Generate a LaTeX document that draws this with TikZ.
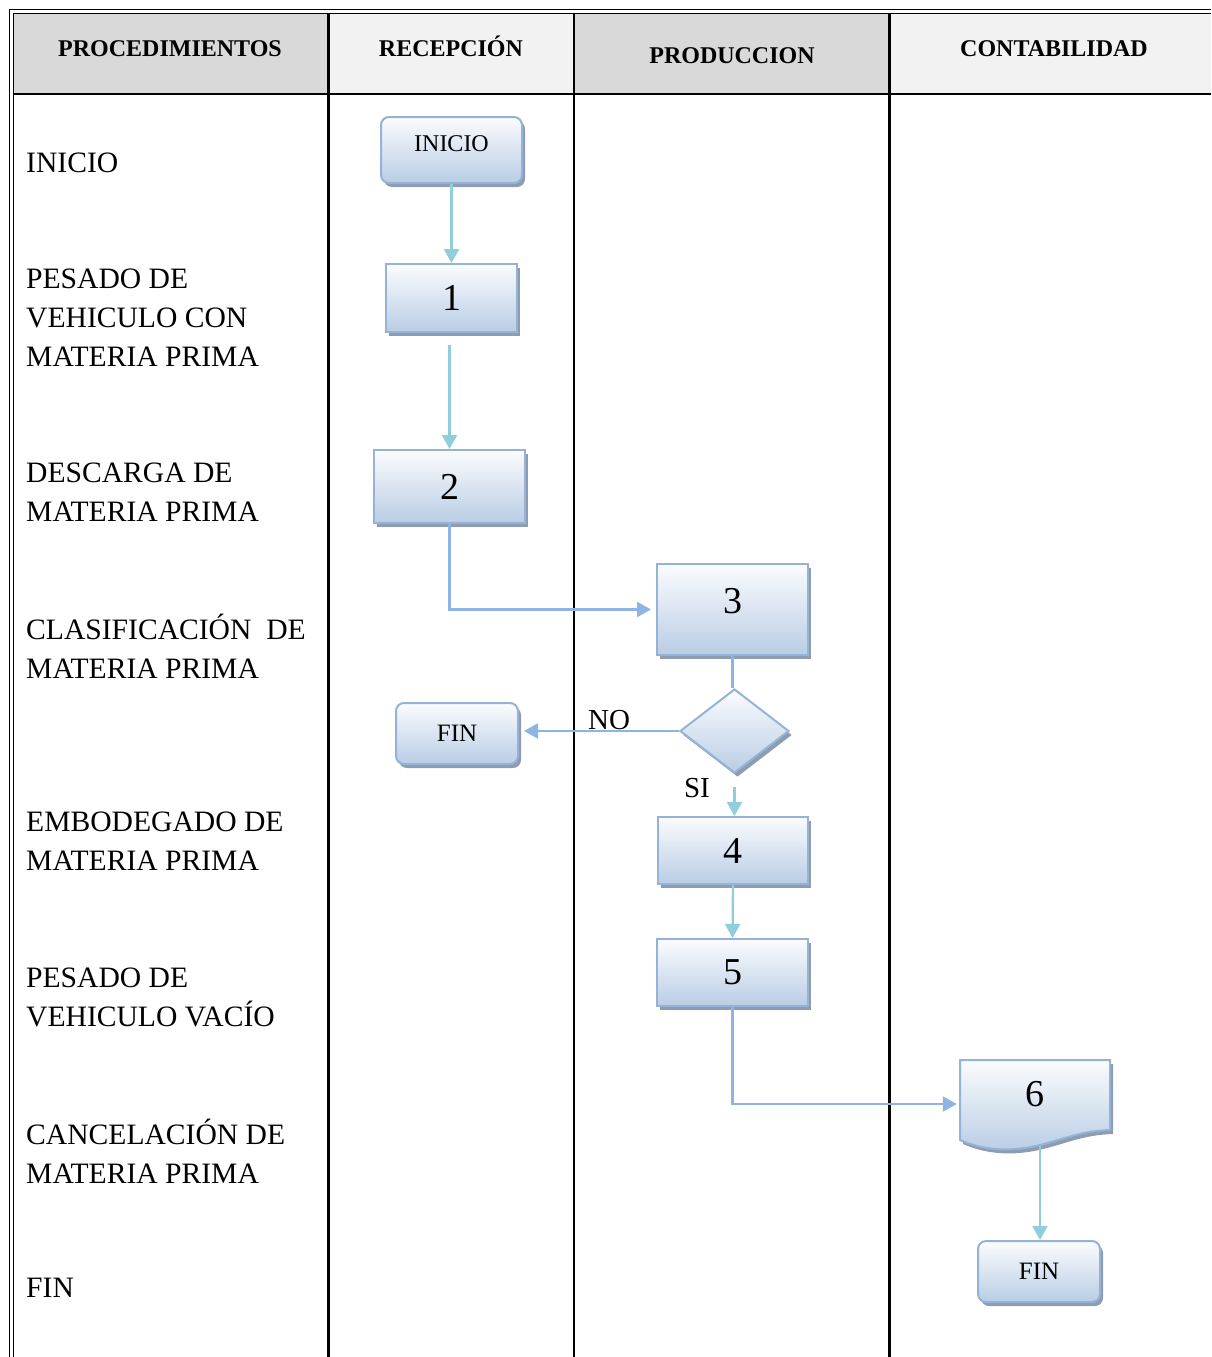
\documentclass[tikz,border=0pt]{standalone}
\usepackage{fontspec}
\setmainfont{Liberation Serif}
\usetikzlibrary{arrows.meta,shapes.geometric,shadows}

\definecolor{boxline}{RGB}{149,179,215}
\definecolor{boxtop}{RGB}{251,252,254}
\definecolor{boxbot}{RGB}{185,205,229}
\definecolor{boxshadow}{RGB}{142,156,178}
\definecolor{flowteal}{RGB}{146,205,220}
\definecolor{flowblue}{RGB}{141,180,226}
\definecolor{hdrdark}{RGB}{217,217,217}
\definecolor{hdrlight}{RGB}{242,242,242}

\tikzset{
  flowshape/.style={draw=boxline, line width=2pt, top color=boxtop, bottom color=boxbot,
    drop shadow={shadow xshift=3pt, shadow yshift=-4pt, fill=boxshadow, opacity=1},
    inner sep=0pt},
  procbox/.style={flowshape, rectangle, font=\fontsize{38}{38}\selectfont},
  termbox/.style={flowshape, rectangle, rounded corners=8pt, font=\fontsize{24}{24}\selectfont},
  tealarrow/.style={draw=flowteal, line width=2.3pt, -{Triangle[length=14pt,width=15pt]}},
  bluearrow/.style={draw=flowblue, line width=2.3pt, -{Triangle[length=14pt,width=15pt]}},
  blueline/.style={draw=flowblue, line width=2.3pt},
  gridline/.style={line width=2.2pt, black},
  frameline/.style={line width=1.8pt, black},
  hdr/.style={font=\bfseries\fontsize{24}{24}\selectfont, anchor=base, inner sep=0pt},
  rowlbl/.style={font=\fontsize{29.6}{39}\selectfont, anchor=west, align=left, inner sep=0pt},
  lbl/.style={font=\fontsize{29}{29}\selectfont, inner sep=0pt}
}

\begin{document}
\begin{tikzpicture}[x=1pt,y=-1pt]
\useasboundingbox (0,0) rectangle (1211,1357);

% header cells
\fill[hdrdark]  (14,14) rectangle (328.5,94);
\fill[hdrlight] (328.5,14) rectangle (574,94);
\fill[hdrdark]  (574,14) rectangle (889.5,94);
\fill[hdrlight] (889.5,14) rectangle (1211,94);

% table frame and grid
\draw[frameline] (9.5,1357) -- (9.5,9.5) -- (1211,9.5);
\draw[frameline] (13.5,1357) -- (13.5,13.5) -- (1211,13.5);
\draw[gridline] (14,94) -- (1211,94);
\draw[gridline] (328.5,14) -- (328.5,1357);
\draw[gridline] (574,14) -- (574,1357);
\draw[gridline] (889.5,14) -- (889.5,1357);

% column headings
\node[hdr] (hproc) at (170,56) {PROCEDIMIENTOS};
\node[hdr] (hrec)  at (451,56) {RECEPCIÓN};
\node[hdr] (hprod) at (732,63) {PRODUCCION};
\node[hdr] (hcont) at (1054,56) {CONTABILIDAD};

% procedure names
\node[rowlbl] (r1) at (26,163) {INICIO};
\node[rowlbl] (r2) at (26,318) {PESADO DE\\VEHICULO CON\\MATERIA PRIMA};
\node[rowlbl] (r3) at (26,492.5) {DESCARGA DE\\MATERIA PRIMA};
\node[rowlbl] (r4) at (26,646) {CLASIFICACIÓN~ DE\\MATERIA PRIMA};
\node[rowlbl] (r5) at (26,841.5) {EMBODEGADO DE\\MATERIA PRIMA};
\node[rowlbl] (r6) at (26,997) {PESADO DE\\VEHICULO VACÍO};
\node[rowlbl] (r7) at (26,1151) {CANCELACIÓN DE\\MATERIA PRIMA};
\node[rowlbl] (r8) at (26,1288) {FIN};

% flow shapes
\node[termbox, minimum width=141pt, minimum height=66pt, text depth=12pt] (inicio) at (451.5,150) {INICIO};
\node[procbox, minimum width=131pt, minimum height=68pt] (n1) at (451.5,298) {1};
\node[procbox, minimum width=151pt, minimum height=73pt] (n2) at (449.5,486.5) {2};
\node[procbox, minimum width=151pt, minimum height=91pt, text depth=17pt] (n3) at (732.5,609.5) {3};
\node[flowshape, diamond, minimum width=109pt, minimum height=84pt, aspect=1.3] (dec) at (734.5,731) {};
\node[termbox, minimum width=122pt, minimum height=61pt, font=\fontsize{25}{25}\selectfont] (finA) at (457,733.5) {FIN};
\node[procbox, minimum width=150pt, minimum height=67pt] (n4) at (733,850.5) {4};
\node[procbox, minimum width=151pt, minimum height=67pt] (n5) at (732.5,972.5) {5};

% document shape for step 6
\path[flowshape] (960,1060) -- (1110,1060) -- (1110,1130)
  .. controls (1080,1131) and (1065,1139) .. (1040,1145)
  .. controls (1012,1152) and (985,1151) .. (960,1140) -- cycle;
\node[minimum width=150pt, minimum height=88pt, inner sep=0pt, text depth=20pt,
      font=\fontsize{38}{38}\selectfont] (n6) at (1035,1104) {6};
\coordinate (n6foot) at (1040,1146);

\node[termbox, minimum width=122pt, minimum height=61pt, font=\fontsize{25}{25}\selectfont] (finB) at (1039,1271.5) {FIN};

% connectors
\draw[tealarrow] (inicio.south) -- (n1.north);
\coordinate (n1out) at ([yshift=-12pt]n1.south);
\draw[tealarrow] (n1out -| n2.north) -- (n2.north);
\draw[bluearrow, shorten >=5pt] (n2.south) |- (n3.west);
\draw[blueline] (n3.south) -- (n3.south |- dec.north);
\draw[bluearrow, shorten >=5pt] (dec.west) -- (dec.west -| finA.east);
\node[lbl] (nolbl) at (609,720) {NO};
\coordinate (decout) at ([yshift=-13pt]dec.south);
\draw[tealarrow] (decout) -- (decout |- n4.north);
\node[lbl] (silbl) at (697,788) {SI};
\draw[tealarrow] (n4.south) -- (n5.north);
\draw[bluearrow, shorten >=3pt] (n5.south) |- (n6.west);
\draw[tealarrow] (n6foot) -- (n6foot |- finB.north);
\end{tikzpicture}
\end{document}
